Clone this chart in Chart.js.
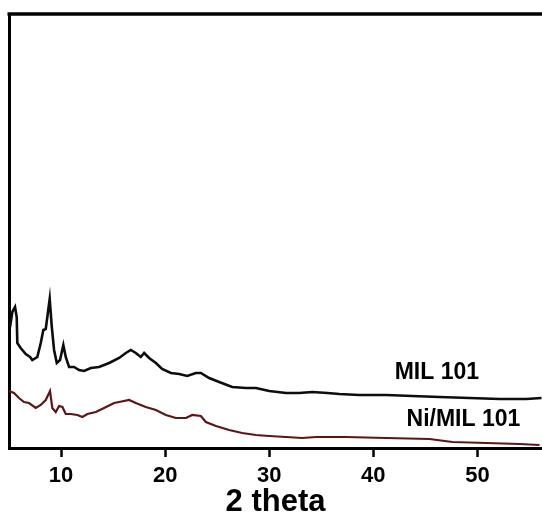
<!DOCTYPE html>
<html>
<head>
<meta charset="utf-8">
<style>
html,body{margin:0;padding:0;background:#fff;}
canvas{display:block;}
</style>
<script src="https://cdn.jsdelivr.net/npm/chart.js@4/dist/chart.umd.min.js"></script>
</head>
<body>
<canvas id="c" width="542" height="516"></canvas>
<script>
// 2 theta positions and intensities (arbitrary units)
const thetaMIL = [5.10,5.32,5.58,5.74,5.80,6.12,6.61,7.02,7.24,7.72,8.05,8.30,8.53,8.91,9.11,9.33,9.59,9.90,10.22,10.45,10.77,11.25,11.73,12.21,12.86,13.65,14.62,15.58,16.22,16.70,17.18,17.66,17.98,18.46,19.11,19.71,20.55,21.35,22.12,22.95,23.43,24.23,25.19,26.44,27.76,28.72,30.0,31.61,32.88,34.13,35.58,36.73,38.65,41.22,43.75,46.35,49.23,52.12,54.68,56.15];
const valuesMIL = [121,136,141,131,105,100,94,91,88,91,105,118,119,149,121,98,85,88,103,91,81,81,78,77,80,81,85,90,95,98,95,91,95,90,85,79,75,74,72,75,75,70,66,61,60,60,57,55,55,56,55,54,53,53,52,51,50,49,49,50];

const thetaNi = [5.0,5.48,5.96,6.44,6.92,7.57,8.05,8.53,8.94,9.16,9.49,9.81,10.13,10.45,10.93,11.57,12.05,12.53,13.34,14.13,15.10,15.58,16.54,17.18,18.14,19.11,20.07,21.03,22.0,22.6,23.43,23.91,24.88,26.15,27.40,28.72,30.0,31.61,33.17,34.49,35.58,37.38,41.22,45.38,47.6,50.84,54.04,55.96];
const valuesNi = [57,55,50,46,45,40,43,48,57,40,36,42,41,34,34,33,31,34,36,40,45,46,48,45,41,38,33,30,30,33,32,26,22,18,15,13,12,11,10,11,11,11,10,9,6,5,4,3];

const tickValues = [10,20,30,40,50];
const seriesLabels = ['MIL 101','Ni/MIL 101'];
const labelTheta = [46.1, 48.65];
const labelValue = [75, 28];
const seriesColors = ['#0d0d0d','#5e1515'];

function toXY(xs, ys){ return xs.map((x,i)=>({x:x, y:ys[i]})); }

const framePlugin = {
  id:'frame',
  afterDraw(chart){
    const {ctx, chartArea, scales} = chart;
    ctx.save();
    ctx.strokeStyle = '#000';
    ctx.lineWidth = 3.5;
    ctx.beginPath();
    ctx.moveTo(chartArea.left - 1.5, chartArea.top);
    ctx.lineTo(chart.width + 2, chartArea.top);
    ctx.stroke();
    ctx.fillStyle = '#000';
    ctx.font = 'bold 23px "Liberation Sans", Arial, sans-serif';
    ctx.textAlign = 'center';
    ctx.textBaseline = 'middle';
    seriesLabels.forEach((t,i)=>{
      ctx.fillText(t, scales.x.getPixelForValue(labelTheta[i]), scales.y.getPixelForValue(labelValue[i]));
    });
    ctx.restore();
  }
};

new Chart(document.getElementById('c'), {
  type:'scatter',
  data:{
    datasets:[
      {label:seriesLabels[0], data:toXY(thetaMIL, valuesMIL), showLine:true, borderColor:seriesColors[0], borderWidth:2.6, pointRadius:0, tension:0, fill:false},
      {label:seriesLabels[1], data:toXY(thetaNi, valuesNi), showLine:true, borderColor:seriesColors[1], borderWidth:2.2, pointRadius:0, tension:0, fill:false}
    ]
  },
  options:{
    responsive:false,
    devicePixelRatio:1,
    animation:false,
    layout:{padding:{left:9, top:14, right:0, bottom:0}},
    plugins:{legend:{display:false}, tooltip:{enabled:false}},
    scales:{
      x:{
        type:'linear', min:5, max:56.2,
        afterBuildTicks(scale){ scale.ticks = tickValues.map(v=>({value:v})); },
        grid:{display:true, drawOnChartArea:false, drawTicks:true, tickLength:9, tickWidth:2.5, tickColor:'#000'},
        border:{display:true, color:'#000', width:3},
        ticks:{color:'#000', padding:8, maxRotation:0, font:{family:'"Liberation Sans", Arial, sans-serif', size:22, weight:'bold', lineHeight:1}},
        title:{display:true, text:'2 theta', color:'#000', padding:{top:-8, bottom:-2}, font:{family:'"Liberation Sans", Arial, sans-serif', size:31, weight:'bold', lineHeight:1}}
      },
      y:{
        type:'linear', min:0, max:434,
        grid:{display:false, drawTicks:false},
        border:{display:true, color:'#000', width:3},
        ticks:{display:false}
      }
    }
  },
  plugins:[framePlugin]
});
</script>
</body>
</html>
